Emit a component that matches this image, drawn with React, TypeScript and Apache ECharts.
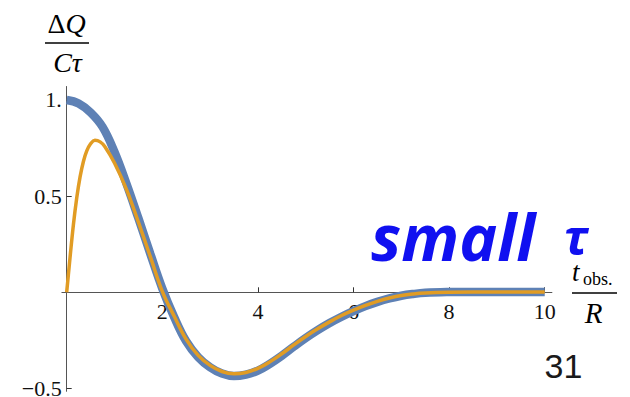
import React, { useEffect, useRef } from "react";
import * as echarts from "echarts";

// Observation time in units of R
const tGrid = [
  0, 0.25, 0.5, 0.75, 1, 1.25, 1.5, 1.75, 2, 2.25, 2.5, 2.75, 3, 3.25, 3.5,
  3.75, 4, 4.25, 4.5, 4.75, 5, 5.25, 5.5, 5.75, 6, 6.25, 6.5, 6.75, 7, 7.25,
  7.5, 8, 8.5, 9, 10,
];
// Response in the τ → 0 limit (thick blue curve)
const chargeLimit = [
  1.0, 0.982, 0.935, 0.86, 0.73, 0.565, 0.385, 0.2, 0.02, -0.13, -0.255,
  -0.337, -0.39, -0.423, -0.436, -0.428, -0.407, -0.372, -0.33, -0.283,
  -0.238, -0.197, -0.16, -0.127, -0.098, -0.072, -0.05, -0.032, -0.018,
  -0.009, -0.003, 0.001, 0.002, 0.002, 0.002,
];

// Finite small τ (orange curve), sampled more densely near the origin
const tSmall = [
  0, 0.035, 0.07, 0.14, 0.21, 0.28, 0.35, 0.42, 0.5, 0.59, 0.7, 0.8, 1, 1.25,
  1.5, 1.75, 2, 2.25, 2.5, 2.75, 3, 3.25, 3.5, 3.75, 4, 4.25, 4.5, 4.75, 5,
  5.25, 5.5, 5.75, 6, 6.25, 6.5, 6.75, 7, 7.25, 7.5, 8, 8.5, 9, 10,
];
const chargeSmallTau = [
  0, 0.09, 0.18, 0.35, 0.49, 0.6, 0.68, 0.735, 0.772, 0.79, 0.782, 0.757,
  0.672, 0.535, 0.365, 0.185, 0.005, -0.125, -0.245, -0.328, -0.38, -0.412,
  -0.424, -0.417, -0.396, -0.362, -0.32, -0.274, -0.23, -0.19, -0.154,
  -0.121, -0.093, -0.068, -0.047, -0.03, -0.017, -0.009, -0.004, 0, 0.001,
  0.001, 0.001,
];

const xTicks = [2, 4, 6, 8, 10];
const yTicks = [-0.5, 0.5, 1];
const yTickText: Record<string, string> = {
  "-0.5": "\u22120.5",
  "0.5": "0.5",
  "1": "1.",
};

const X_MIN = -0.1;
const X_MAX = 10.15;
const Y_MIN = -0.515;
const Y_MAX = 1.07;

const SERIF = "Liberation Serif";
const AXIS_GRAY = "#555";

// Plot frame in pixels
const PLOT_LEFT = 61.9;
const PLOT_RIGHT = 78.1;
const PLOT_TOP = 86.5;
const PLOT_BOTTOM = 5.7;
const ZERO_Y = 292.3; // pixel row of y = 0
const ZERO_X = 66.7; // pixel column of x = 0

export default function App() {
  const ref = useRef<HTMLDivElement>(null);

  useEffect(() => {
    if (!ref.current) return;
    const chart = echarts.init(ref.current, undefined, { renderer: "svg" });

    const limitData = tGrid.map((t, i) => [t, chargeLimit[i]]);
    const smallData = tSmall.map((t, i) => [t, chargeSmallTau[i]]);

    const tickLabel = {
      fontFamily: SERIF,
      fontSize: 22,
      lineHeight: 18,
      color: "#111",
    };

    chart.setOption({
      animation: false,
      backgroundColor: "#fff",
      grid: [
        // data area
        {
          left: PLOT_LEFT,
          right: PLOT_RIGHT,
          top: PLOT_TOP,
          bottom: PLOT_BOTTOM,
          containLabel: false,
          outerBoundsMode: "none",
        },
        // carries the horizontal axis along y = 0
        {
          left: PLOT_LEFT,
          right: PLOT_RIGHT,
          top: PLOT_TOP,
          bottom: 397 - ZERO_Y,
          containLabel: false,
          outerBoundsMode: "none",
        },
        // carries the vertical axis along x = 0
        {
          left: ZERO_X,
          right: PLOT_RIGHT,
          top: PLOT_TOP,
          bottom: PLOT_BOTTOM,
          containLabel: false,
          outerBoundsMode: "none",
        },
      ],
      xAxis: [
        { gridIndex: 0, type: "value", min: X_MIN, max: X_MAX, show: false },
        {
          gridIndex: 1,
          type: "value",
          position: "bottom",
          min: X_MIN,
          max: X_MAX,
          splitLine: { show: false },
          axisLine: { onZero: false, lineStyle: { color: AXIS_GRAY, width: 1 } },
          axisTick: {
            inside: true,
            length: 5,
            customValues: xTicks,
            lineStyle: { color: "#333", width: 1 },
          },
          axisLabel: { ...tickLabel, customValues: xTicks, margin: 10 },
        },
        { gridIndex: 2, type: "value", min: 0, max: X_MAX, show: false },
      ],
      yAxis: [
        { gridIndex: 0, type: "value", min: Y_MIN, max: Y_MAX, show: false },
        { gridIndex: 1, type: "value", min: 0, max: Y_MAX, show: false },
        {
          gridIndex: 2,
          type: "value",
          position: "left",
          min: Y_MIN,
          max: Y_MAX,
          splitLine: { show: false },
          axisLine: { onZero: false, lineStyle: { color: AXIS_GRAY, width: 1 } },
          axisTick: {
            inside: true,
            length: 5,
            customValues: yTicks,
            lineStyle: { color: "#333", width: 1 },
          },
          axisLabel: {
            ...tickLabel,
            customValues: yTicks,
            margin: 5,
            formatter: (v: number) => yTickText[String(v)] ?? String(v),
          },
        },
      ],
      series: [
        {
          type: "line",
          xAxisIndex: 0,
          yAxisIndex: 0,
          data: limitData,
          showSymbol: false,
          smooth: 0.4,
          lineStyle: { color: "#5E81B5", width: 8.5, cap: "butt" },
          z: 2,
        },
        {
          type: "line",
          xAxisIndex: 0,
          yAxisIndex: 0,
          data: smallData,
          showSymbol: false,
          smooth: 0.4,
          lineStyle: { color: "#E19C24", width: 3.5 },
          z: 3,
        },
      ],
      graphic: [
        // y-axis label ΔQ / Cτ
        {
          type: "text",
          x: 66.5,
          y: 23,
          style: {
            text: "{u|Δ}{i|Q}",
            align: "center",
            verticalAlign: "middle",
            rich: {
              u: { fontFamily: SERIF, fontSize: 28, fill: "#000" },
              i: { fontFamily: SERIF, fontSize: 28, fontStyle: "italic", fill: "#000" },
            },
          },
        },
        {
          type: "line",
          shape: { x1: 45, y1: 43, x2: 89, y2: 43 },
          style: { stroke: "#000", lineWidth: 1.3 },
        },
        {
          type: "text",
          x: 67.5,
          y: 62.5,
          style: {
            text: "C\u03c4",
            align: "center",
            verticalAlign: "middle",
            fontFamily: SERIF,
            fontSize: 28,
            fontStyle: "italic",
            fill: "#000",
          },
        },
        // x-axis label t_obs. / R
        {
          type: "text",
          x: 572,
          y: 272,
          style: {
            text: "t",
            align: "left",
            verticalAlign: "middle",
            fontFamily: SERIF,
            fontSize: 27,
            lineHeight: 18,
            fontStyle: "italic",
            fill: "#000",
          },
        },
        {
          type: "text",
          x: 583,
          y: 279,
          style: {
            text: "obs.",
            align: "left",
            verticalAlign: "middle",
            fontFamily: SERIF,
            fontSize: 18,
            fill: "#000",
          },
        },
        {
          type: "line",
          shape: { x1: 572, y1: 293, x2: 617, y2: 293 },
          style: { stroke: "#000", lineWidth: 1.3 },
        },
        {
          type: "text",
          x: 593.5,
          y: 312.5,
          style: {
            text: "R",
            align: "center",
            verticalAlign: "middle",
            fontFamily: SERIF,
            fontSize: 29,
            fontStyle: "italic",
            fill: "#000",
          },
        },
        // annotation
        {
          type: "text",
          x: 371,
          y: 236,
          style: {
            text: "small",
            align: "left",
            verticalAlign: "middle",
            fontFamily: "Open Sans",
            fontSize: 64,
            fontWeight: "bold",
            fontStyle: "italic",
            fill: "#1010F0",
          },
        },
        {
          type: "text",
          x: 576,
          y: 236,
          style: {
            text: "\u03c4",
            align: "center",
            verticalAlign: "middle",
            fontFamily: "Open Sans",
            fontSize: 49,
            lineHeight: 36,
            fontWeight: "bold",
            fontStyle: "italic",
            fill: "#1010F0",
          },
        },
        // slide number
        {
          type: "text",
          x: 563.5,
          y: 365.5,
          style: {
            text: "31",
            align: "center",
            verticalAlign: "middle",
            fontFamily: "Liberation Sans",
            fontSize: 34,
            fill: "#1a1a1a",
          },
        },
      ],
    });

    return () => chart.dispose();
  }, []);

  return (
    <div
      ref={ref}
      style={{ position: "fixed", left: 0, top: 0, width: 630, height: 397 }}
    />
  );
}
